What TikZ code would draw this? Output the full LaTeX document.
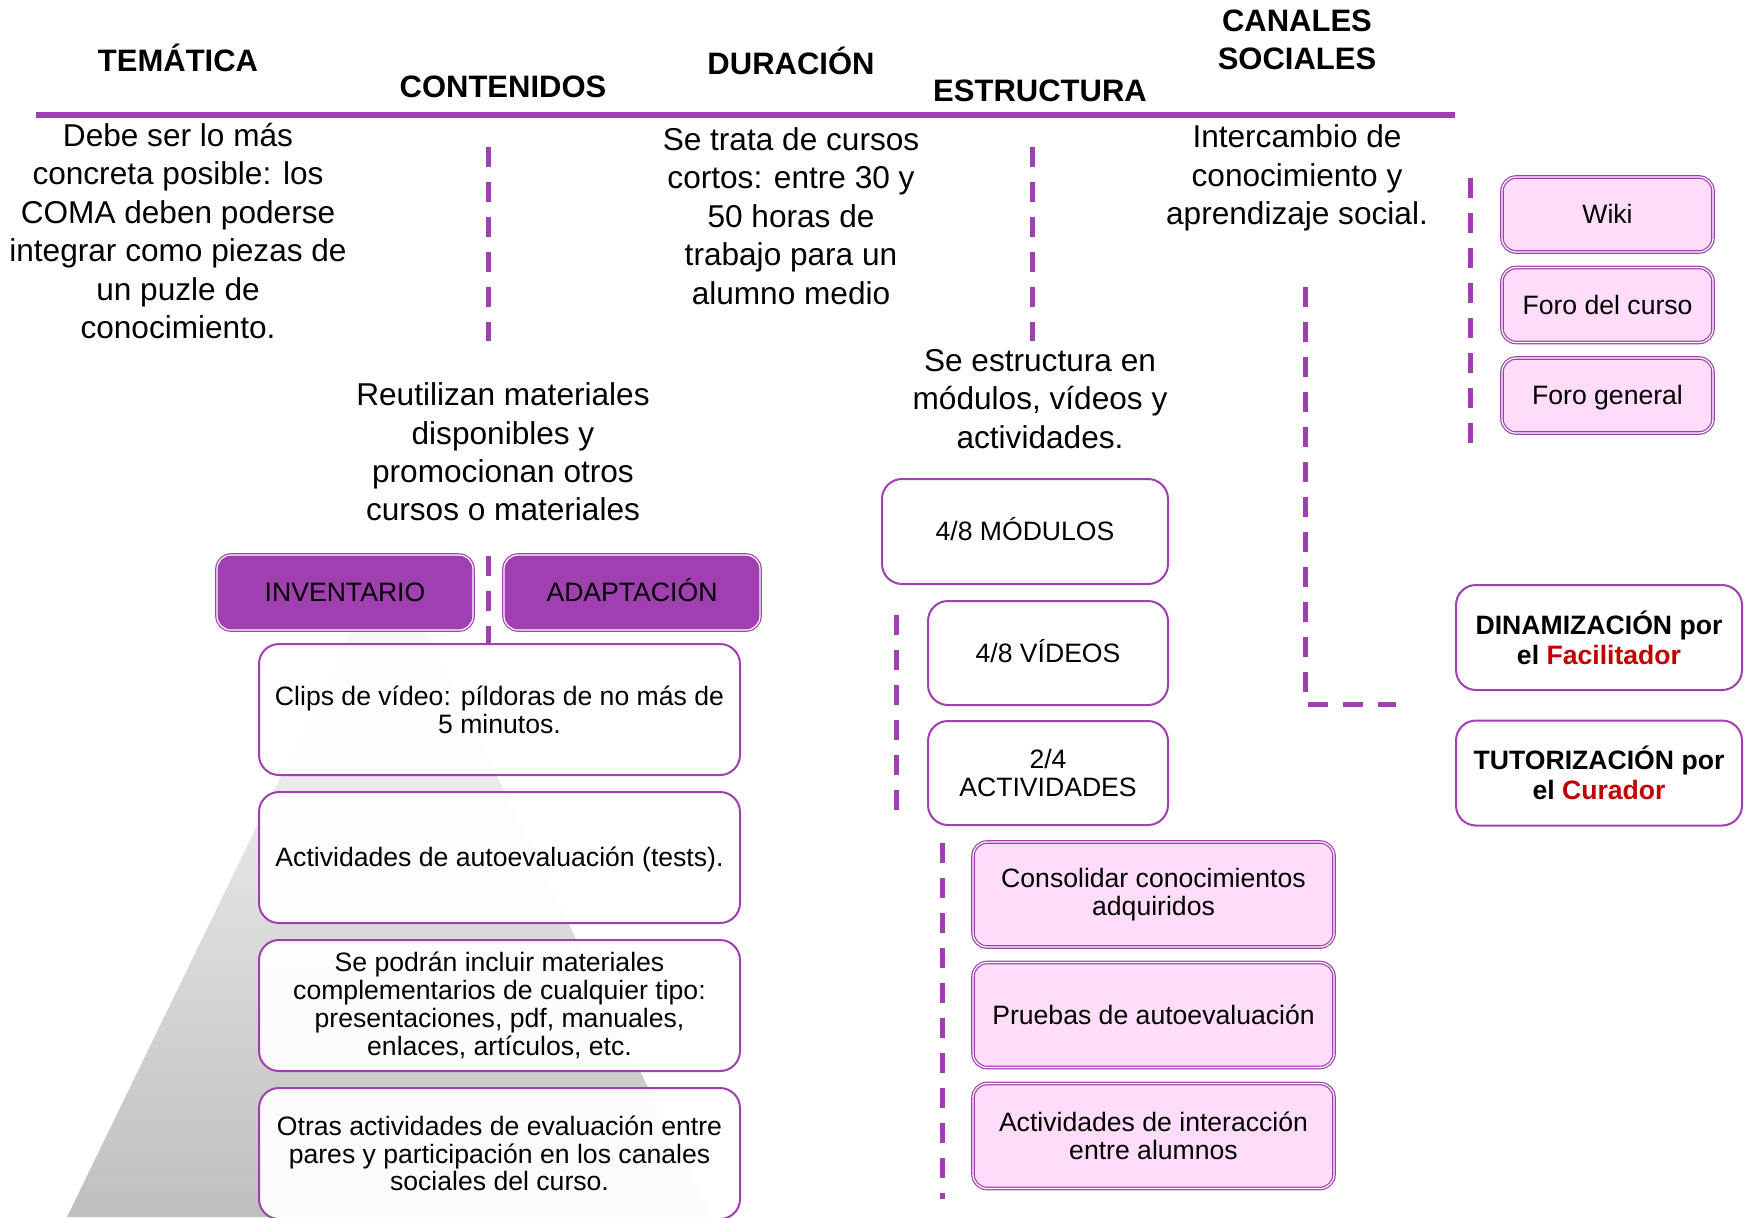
\documentclass[tikz,border=0pt]{standalone}
\usepackage{fontspec}
\setmainfont{Liberation Sans}
\definecolor{morado}{RGB}{160,64,176}
\definecolor{rosa}{RGB}{255,221,250}
\definecolor{rojo}{RGB}{192,0,0}
\begin{document}
\begin{tikzpicture}[x=0.5pt,y=-0.5pt,
    titulo/.style={font=\bfseries\fontsize{15.5}{19}\selectfont,align=center},
    texto/.style={font=\fontsize{15.8}{19.2}\selectfont,align=center},
    caja/.style={draw=morado,line width=1pt,rounded corners=10pt,fill=white,fill opacity=0.95,text opacity=1,
      align=center,inner sep=0pt,font=\fontsize{13.3}{13.9}\selectfont},
    unalinea/.style={text height=11pt,text depth=1.8pt},
    cajarosa/.style={caja,fill=rosa,fill opacity=1,double=white,double distance=0.6pt,line width=0.6pt,rounded corners=7pt},
    cajamorada/.style={cajarosa,fill=morado,unalinea},
    cajafig/.style={caja,font=\bfseries\fontsize{13.3}{15}\selectfont},
    discont/.style={draw=morado,line width=2.5pt,dash pattern=on 10pt off 7.5pt}]
  \useasboundingbox (0,0) rectangle (1744,1217);
  % piramide del fondo
  \shade[top color=white,bottom color=black!25] (389,554) -- (711,1217) -- (67,1217) -- cycle;
  % cabeceras
  \draw[morado,line width=3pt] (36,115) -- (1455,115);
  \node[titulo] (tematica) at (178,58) {TEMÁTICA};
  \node[titulo] (contenidos) at (503,87) {CONTENIDOS};
  \node[titulo] (duracion) at (791,61) {DURACIÓN};
  \node[titulo] (estructura) at (1040,91) {ESTRUCTURA};
  \node[titulo] (canales) at (1297,40) {CANALES\\SOCIALES};
  % textos
  \node[texto] (tTematica) at (178,231) {Debe ser lo más\\concreta posible: los\\COMA deben poderse\\integrar como piezas de\\un puzle de\\conocimiento.};
  \node[texto] (tDuracion) at (791,216) {Se trata de cursos\\cortos: entre 30 y\\50 horas de\\trabajo para un\\alumno medio};
  \node[texto] (tCanales) at (1297,178) {Intercambio de\\conocimiento y\\aprendizaje social.};
  \node[texto] (tContenidos) at (503,452) {Reutilizan materiales\\disponibles y\\promocionan otros\\cursos o materiales};
  \node[texto] (tEstructura) at (1040,399) {Se estructura en\\módulos, vídeos y\\actividades.};
  % lineas discontinuas
  \draw[discont] (488,147) -- (488,341);
  \draw[discont] (488,556) -- (488,645);
  \draw[discont] (1032,147) -- (1032,341);
  \draw[discont] (1305,287) -- (1305,704) -- (1396,704);
  \draw[discont] (1470,178) -- (1470,450);
  \draw[discont] (896,615) -- (896,810);
  \draw[discont] (942,843) -- (942,1199);
  % contenidos
  \node[cajamorada,minimum width=128pt,minimum height=37.5pt] (inventario) at (345,592.5) {INVENTARIO};
  \node[cajamorada,minimum width=128pt,minimum height=37.5pt] (adaptacion) at (632,592.5) {ADAPTACIÓN};
  \node[caja,minimum width=240.5pt,minimum height=65.5pt] (clips) at (499.5,709.5) {Clips de vídeo: píldoras de no más de\\5 minutos.};
  \node[caja,unalinea,minimum width=240.5pt,minimum height=65.5pt] (autoeval) at (499.5,857.5) {Actividades de autoevaluación (tests).};
  \node[caja,minimum width=240.5pt,minimum height=65.5pt] (complem) at (499.5,1005.5) {Se podrán incluir materiales\\complementarios de cualquier tipo:\\presentaciones, pdf, manuales,\\enlaces, artículos, etc.};
  \node[caja,minimum width=240.5pt,minimum height=65.5pt] (otras) at (499.5,1153.5) {Otras actividades de evaluación entre\\pares y participación en los canales\\sociales del curso.};
  % estructura
  \node[caja,unalinea,minimum width=143pt,minimum height=52.5pt] (modulos) at (1025,531.5) {4/8 MÓDULOS};
  \node[caja,unalinea,minimum width=120pt,minimum height=52pt] (videos) at (1048,653) {4/8 VÍDEOS};
  \node[caja,minimum width=120pt,minimum height=52pt] (actividades) at (1048,773) {2/4\\ACTIVIDADES};
  \node[cajarosa,minimum width=180.5pt,minimum height=52.5pt] (consolidar) at (1153.5,894.5) {Consolidar conocimientos\\adquiridos};
  \node[cajarosa,unalinea,minimum width=180.5pt,minimum height=52.5pt] (pruebas) at (1153.5,1015) {Pruebas de autoevaluación};
  \node[cajarosa,minimum width=180.5pt,minimum height=52.5pt] (interaccion) at (1153.5,1136) {Actividades de interacción\\entre alumnos};
  % canales sociales
  \node[cajarosa,unalinea,minimum width=105.5pt,minimum height=37.5pt] (wiki) at (1607.5,214.5) {Wiki};
  \node[cajarosa,unalinea,minimum width=105.5pt,minimum height=37.5pt] (foroCurso) at (1607.5,305) {Foro del curso};
  \node[cajarosa,unalinea,minimum width=105.5pt,minimum height=37.5pt] (foroGeneral) at (1607.5,395.5) {Foro general};
  \node[cajafig,minimum width=143pt,minimum height=52.5pt] (dinamizacion) at (1599,637.5) {DINAMIZACIÓN por\\el \textcolor{rojo}{Facilitador}};
  \node[cajafig,minimum width=143pt,minimum height=52.5pt] (tutorizacion) at (1599,773) {TUTORIZACIÓN por\\el \textcolor{rojo}{Curador}};
\end{tikzpicture}
\end{document}
